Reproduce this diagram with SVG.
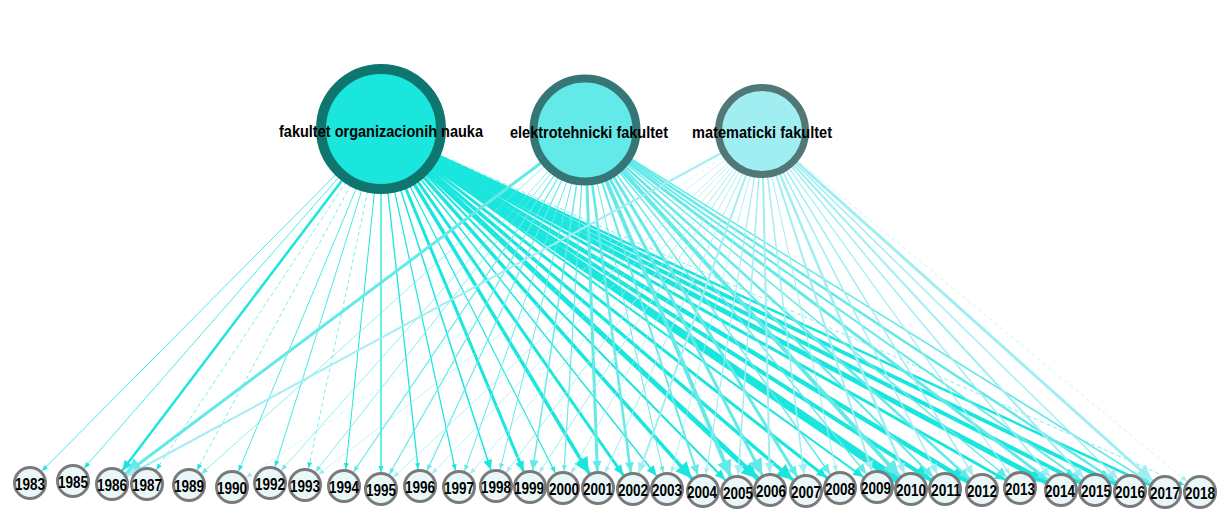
<svg xmlns="http://www.w3.org/2000/svg" width="1228" height="528" viewBox="0 0 1228 528">
<style>
.f{stroke:#1ae6de;fill:none}
.e{stroke:#64e9e9;fill:none}
.m{stroke:#a0eef2;fill:none}
.d{stroke-dasharray:4 3}
.yr circle{fill:#eaf7f9;stroke:#7a7a7a;stroke-width:3}
.yr text{font-family:"Liberation Sans",Arial,sans-serif;font-weight:bold;font-size:17px;text-anchor:middle;fill:#000}
.src text{font-family:"Liberation Sans",Arial,sans-serif;font-weight:bold;font-size:16.5px;text-anchor:middle;fill:#000}
</style>
<defs>
<marker id="f1" markerUnits="userSpaceOnUse" viewBox="-50 -12 50 24" markerWidth="50" markerHeight="24" refX="0" refY="0" orient="auto" overflow="visible"><path d="M-17,0 L-23,-2.5 L-23,2.5 Z" fill="#1ae6de"/></marker>
<marker id="f2" markerUnits="userSpaceOnUse" viewBox="-50 -12 50 24" markerWidth="50" markerHeight="24" refX="0" refY="0" orient="auto" overflow="visible"><path d="M-17,0 L-27,-4.5 L-27,4.5 Z" fill="#1ae6de"/></marker>
<marker id="f3" markerUnits="userSpaceOnUse" viewBox="-50 -12 50 24" markerWidth="50" markerHeight="24" refX="0" refY="0" orient="auto" overflow="visible"><path d="M-17,0 L-33,-7.5 L-33,7.5 Z" fill="#1ae6de"/></marker>
<marker id="e1" markerUnits="userSpaceOnUse" viewBox="-50 -12 50 24" markerWidth="50" markerHeight="24" refX="0" refY="0" orient="auto" overflow="visible"><path d="M-17,0 L-23,-2.5 L-23,2.5 Z" fill="#64e9e9"/></marker>
<marker id="e2" markerUnits="userSpaceOnUse" viewBox="-50 -12 50 24" markerWidth="50" markerHeight="24" refX="0" refY="0" orient="auto" overflow="visible"><path d="M-17,0 L-27,-4.5 L-27,4.5 Z" fill="#64e9e9"/></marker>
<marker id="e3" markerUnits="userSpaceOnUse" viewBox="-50 -12 50 24" markerWidth="50" markerHeight="24" refX="0" refY="0" orient="auto" overflow="visible"><path d="M-17,0 L-33,-7.5 L-33,7.5 Z" fill="#64e9e9"/></marker>
<marker id="m1" markerUnits="userSpaceOnUse" viewBox="-50 -12 50 24" markerWidth="50" markerHeight="24" refX="0" refY="0" orient="auto" overflow="visible"><path d="M-17,0 L-23,-2.5 L-23,2.5 Z" fill="#a0eef2"/></marker>
<marker id="m2" markerUnits="userSpaceOnUse" viewBox="-50 -12 50 24" markerWidth="50" markerHeight="24" refX="0" refY="0" orient="auto" overflow="visible"><path d="M-17,0 L-27,-4.5 L-27,4.5 Z" fill="#a0eef2"/></marker>
<marker id="m3" markerUnits="userSpaceOnUse" viewBox="-50 -12 50 24" markerWidth="50" markerHeight="24" refX="0" refY="0" orient="auto" overflow="visible"><path d="M-17,0 L-33,-7.5 L-33,7.5 Z" fill="#a0eef2"/></marker>
</defs>
<rect width="1228" height="528" fill="#fff"/>
<g id="connectors">
<g id="edges-fon">
<line class="f" x1="381" y1="129" x2="30" y2="483" stroke-width="0.8" marker-end="url(#f1)"/>
<line class="f" x1="381" y1="129" x2="73" y2="481" stroke-width="0.8" marker-end="url(#f1)"/>
<line class="f" x1="381" y1="129" x2="112" y2="484" stroke-width="2.5" marker-end="url(#f2)"/>
<line class="f d" x1="381" y1="129" x2="147" y2="484" stroke-width="0.6" marker-end="url(#f1)"/>
<line class="f d" x1="381" y1="129" x2="189" y2="485" stroke-width="0.6" marker-end="url(#f1)"/>
<line class="f" x1="381" y1="129" x2="232" y2="487" stroke-width="0.8" marker-end="url(#f1)"/>
<line class="f" x1="381" y1="129" x2="270" y2="483" stroke-width="0.8" marker-end="url(#f1)"/>
<line class="f d" x1="381" y1="129" x2="305" y2="485" stroke-width="0.6" marker-end="url(#f1)"/>
<line class="f" x1="381" y1="129" x2="344" y2="486" stroke-width="1" marker-end="url(#f1)"/>
<line class="f" x1="381" y1="129" x2="381" y2="489" stroke-width="1.3" marker-end="url(#f1)"/>
<line class="f" x1="381" y1="129" x2="420" y2="486" stroke-width="1.3" marker-end="url(#f1)"/>
<line class="f" x1="381" y1="129" x2="459" y2="487" stroke-width="1.2" marker-end="url(#f1)"/>
<line class="f" x1="381" y1="129" x2="496" y2="486" stroke-width="1.5" marker-end="url(#f2)"/>
<line class="f" x1="381" y1="129" x2="530" y2="487" stroke-width="3" marker-end="url(#f2)"/>
<line class="f" x1="381" y1="129" x2="563" y2="488" stroke-width="1.2" marker-end="url(#f1)"/>
<line class="f" x1="381" y1="129" x2="598" y2="488" stroke-width="3.5" marker-end="url(#f3)"/>
<line class="f" x1="381" y1="129" x2="633" y2="489" stroke-width="3" marker-end="url(#f2)"/>
<line class="f" x1="381" y1="129" x2="667" y2="489" stroke-width="1.5" marker-end="url(#f2)"/>
<line class="f" x1="381" y1="129" x2="703" y2="491" stroke-width="3.5" marker-end="url(#f3)"/>
<line class="f" x1="381" y1="129" x2="737" y2="492" stroke-width="2" marker-end="url(#f2)"/>
<line class="f" x1="381" y1="129" x2="770" y2="490" stroke-width="5" marker-end="url(#f3)"/>
<line class="f" x1="381" y1="129" x2="806" y2="491" stroke-width="3.5" marker-end="url(#f3)"/>
<line class="f" x1="381" y1="129" x2="840" y2="488" stroke-width="3" marker-end="url(#f2)"/>
<line class="f" x1="381" y1="129" x2="877" y2="487" stroke-width="2" marker-end="url(#f2)"/>
<line class="f" x1="381" y1="129" x2="911" y2="489" stroke-width="8" marker-end="url(#f3)"/>
<line class="f" x1="381" y1="129" x2="945" y2="489" stroke-width="4" marker-end="url(#f3)"/>
<line class="f" x1="381" y1="129" x2="982" y2="490" stroke-width="4.5" marker-end="url(#f3)"/>
<line class="f" x1="381" y1="129" x2="1020" y2="488" stroke-width="3" marker-end="url(#f2)"/>
<line class="f" x1="381" y1="129" x2="1061" y2="490" stroke-width="5" marker-end="url(#f3)"/>
<line class="f" x1="381" y1="129" x2="1095" y2="490" stroke-width="4" marker-end="url(#f3)"/>
<line class="f" x1="381" y1="129" x2="1130" y2="491" stroke-width="4" marker-end="url(#f3)"/>
<line class="f" x1="381" y1="129" x2="1165" y2="492" stroke-width="2.5" marker-end="url(#f2)"/>
<line class="f d" x1="381" y1="129" x2="1200" y2="492" stroke-width="0.6" marker-end="url(#f1)"/>
</g>
<g id="edges-etf">
<line class="e" x1="585" y1="130" x2="112" y2="484" stroke-width="3" marker-end="url(#e3)"/>
<line class="e" x1="585" y1="130" x2="189" y2="485" stroke-width="0.7" marker-end="url(#e1)"/>
<line class="e" x1="585" y1="130" x2="270" y2="483" stroke-width="0.7" marker-end="url(#e1)"/>
<line class="e" x1="585" y1="130" x2="305" y2="485" stroke-width="0.8" marker-end="url(#e1)"/>
<line class="e" x1="585" y1="130" x2="344" y2="486" stroke-width="1.2" marker-end="url(#e1)"/>
<line class="e" x1="585" y1="130" x2="381" y2="489" stroke-width="1.2" marker-end="url(#e1)"/>
<line class="e" x1="585" y1="130" x2="420" y2="486" stroke-width="1.2" marker-end="url(#e1)"/>
<line class="e" x1="585" y1="130" x2="459" y2="487" stroke-width="1" marker-end="url(#e1)"/>
<line class="e" x1="585" y1="130" x2="496" y2="486" stroke-width="1" marker-end="url(#e1)"/>
<line class="e" x1="585" y1="130" x2="530" y2="487" stroke-width="1.5" marker-end="url(#e2)"/>
<line class="e" x1="585" y1="130" x2="563" y2="488" stroke-width="1.2" marker-end="url(#e1)"/>
<line class="e" x1="585" y1="130" x2="598" y2="488" stroke-width="3" marker-end="url(#e2)"/>
<line class="e" x1="585" y1="130" x2="633" y2="489" stroke-width="2.5" marker-end="url(#e2)"/>
<line class="e" x1="585" y1="130" x2="667" y2="489" stroke-width="1" marker-end="url(#e1)"/>
<line class="e" x1="585" y1="130" x2="703" y2="491" stroke-width="2" marker-end="url(#e2)"/>
<line class="e" x1="585" y1="130" x2="737" y2="492" stroke-width="4" marker-end="url(#e3)"/>
<line class="e" x1="585" y1="130" x2="770" y2="490" stroke-width="3" marker-end="url(#e3)"/>
<line class="e" x1="585" y1="130" x2="806" y2="491" stroke-width="3" marker-end="url(#e2)"/>
<line class="e" x1="585" y1="130" x2="840" y2="488" stroke-width="1.5" marker-end="url(#e2)"/>
<line class="e" x1="585" y1="130" x2="877" y2="487" stroke-width="1.5" marker-end="url(#e2)"/>
<line class="e" x1="585" y1="130" x2="911" y2="489" stroke-width="4" marker-end="url(#e3)"/>
<line class="e" x1="585" y1="130" x2="945" y2="489" stroke-width="2" marker-end="url(#e2)"/>
<line class="e" x1="585" y1="130" x2="982" y2="490" stroke-width="2.5" marker-end="url(#e2)"/>
<line class="e" x1="585" y1="130" x2="1020" y2="488" stroke-width="1.5" marker-end="url(#e2)"/>
<line class="e" x1="585" y1="130" x2="1061" y2="490" stroke-width="3" marker-end="url(#e2)"/>
<line class="e" x1="585" y1="130" x2="1095" y2="490" stroke-width="2" marker-end="url(#e2)"/>
<line class="e" x1="585" y1="130" x2="1130" y2="491" stroke-width="2.5" marker-end="url(#e2)"/>
<line class="e" x1="585" y1="130" x2="1165" y2="492" stroke-width="1.5" marker-end="url(#e2)"/>
</g>
<g id="edges-matf">
<line class="m" x1="762" y1="131" x2="112" y2="484" stroke-width="2" marker-end="url(#m2)"/>
<line class="m d" x1="762" y1="131" x2="232" y2="487" stroke-width="0.5" marker-end="url(#m1)"/>
<line class="m" x1="762" y1="131" x2="305" y2="485" stroke-width="0.6" marker-end="url(#m1)"/>
<line class="m" x1="762" y1="131" x2="381" y2="489" stroke-width="0.8" marker-end="url(#m1)"/>
<line class="m" x1="762" y1="131" x2="420" y2="486" stroke-width="0.7" marker-end="url(#m1)"/>
<line class="m" x1="762" y1="131" x2="459" y2="487" stroke-width="0.7" marker-end="url(#m1)"/>
<line class="m" x1="762" y1="131" x2="496" y2="486" stroke-width="1" marker-end="url(#m1)"/>
<line class="m" x1="762" y1="131" x2="530" y2="487" stroke-width="1" marker-end="url(#m1)"/>
<line class="m" x1="762" y1="131" x2="563" y2="488" stroke-width="0.8" marker-end="url(#m1)"/>
<line class="m" x1="762" y1="131" x2="598" y2="488" stroke-width="1" marker-end="url(#m1)"/>
<line class="m" x1="762" y1="131" x2="633" y2="489" stroke-width="2" marker-end="url(#m2)"/>
<line class="m" x1="762" y1="131" x2="667" y2="489" stroke-width="0.8" marker-end="url(#m1)"/>
<line class="m" x1="762" y1="131" x2="703" y2="491" stroke-width="1.2" marker-end="url(#m1)"/>
<line class="m" x1="762" y1="131" x2="737" y2="492" stroke-width="1.5" marker-end="url(#m2)"/>
<line class="m" x1="762" y1="131" x2="770" y2="490" stroke-width="2" marker-end="url(#m2)"/>
<line class="m" x1="762" y1="131" x2="806" y2="491" stroke-width="1.5" marker-end="url(#m2)"/>
<line class="m" x1="762" y1="131" x2="840" y2="488" stroke-width="1" marker-end="url(#m1)"/>
<line class="m" x1="762" y1="131" x2="877" y2="487" stroke-width="2" marker-end="url(#m2)"/>
<line class="m" x1="762" y1="131" x2="911" y2="489" stroke-width="2.5" marker-end="url(#m2)"/>
<line class="m" x1="762" y1="131" x2="945" y2="489" stroke-width="1.5" marker-end="url(#m2)"/>
<line class="m" x1="762" y1="131" x2="982" y2="490" stroke-width="1.5" marker-end="url(#m2)"/>
<line class="m" x1="762" y1="131" x2="1020" y2="488" stroke-width="1.2" marker-end="url(#m1)"/>
<line class="m" x1="762" y1="131" x2="1061" y2="490" stroke-width="1.5" marker-end="url(#m2)"/>
<line class="m" x1="762" y1="131" x2="1095" y2="490" stroke-width="2" marker-end="url(#m2)"/>
<line class="m" x1="762" y1="131" x2="1130" y2="491" stroke-width="1.5" marker-end="url(#m2)"/>
<line class="m" x1="762" y1="131" x2="1165" y2="492" stroke-width="3" marker-end="url(#m3)"/>
<line class="m d" x1="762" y1="131" x2="1200" y2="492" stroke-width="0.6" marker-end="url(#m1)"/>
</g>
</g>
<g class="src">
<g id="node-fon"><circle cx="381" cy="129" r="60" fill="#1ae6de" stroke="#0e756f" stroke-width="10"/><text x="381" y="137" textLength="204" lengthAdjust="spacingAndGlyphs">fakultet organizacionih nauka</text></g>
<g id="node-etf"><circle cx="585" cy="130" r="51.5" fill="#64e9e9" stroke="#367676" stroke-width="8"/><text x="589" y="138" textLength="158" lengthAdjust="spacingAndGlyphs">elektrotehnicki fakultet</text></g>
<g id="node-matf"><circle cx="762" cy="131" r="43.5" fill="#a0eef2" stroke="#517777" stroke-width="7"/><text x="762" y="138" textLength="140" lengthAdjust="spacingAndGlyphs">matematicki fakultet</text></g>
</g>
<g class="yr">
<g id="y1983"><circle cx="30" cy="483" r="15.5"/><text x="30" y="490" textLength="30" lengthAdjust="spacingAndGlyphs">1983</text></g>
<g id="y1985"><circle cx="73" cy="481" r="15.5"/><text x="73" y="488" textLength="30" lengthAdjust="spacingAndGlyphs">1985</text></g>
<g id="y1986"><circle cx="112" cy="484" r="15.5"/><text x="112" y="491" textLength="30" lengthAdjust="spacingAndGlyphs">1986</text></g>
<g id="y1987"><circle cx="147" cy="484" r="15.5"/><text x="147" y="491" textLength="30" lengthAdjust="spacingAndGlyphs">1987</text></g>
<g id="y1989"><circle cx="189" cy="485" r="15.5"/><text x="189" y="492" textLength="30" lengthAdjust="spacingAndGlyphs">1989</text></g>
<g id="y1990"><circle cx="232" cy="487" r="15.5"/><text x="232" y="494" textLength="30" lengthAdjust="spacingAndGlyphs">1990</text></g>
<g id="y1992"><circle cx="270" cy="483" r="15.5"/><text x="270" y="490" textLength="30" lengthAdjust="spacingAndGlyphs">1992</text></g>
<g id="y1993"><circle cx="305" cy="485" r="15.5"/><text x="305" y="492" textLength="30" lengthAdjust="spacingAndGlyphs">1993</text></g>
<g id="y1994"><circle cx="344" cy="486" r="15.5"/><text x="344" y="493" textLength="30" lengthAdjust="spacingAndGlyphs">1994</text></g>
<g id="y1995"><circle cx="381" cy="489" r="15.5"/><text x="381" y="496" textLength="30" lengthAdjust="spacingAndGlyphs">1995</text></g>
<g id="y1996"><circle cx="420" cy="486" r="15.5"/><text x="420" y="493" textLength="30" lengthAdjust="spacingAndGlyphs">1996</text></g>
<g id="y1997"><circle cx="459" cy="487" r="15.5"/><text x="459" y="494" textLength="30" lengthAdjust="spacingAndGlyphs">1997</text></g>
<g id="y1998"><circle cx="496" cy="486" r="15.5"/><text x="496" y="493" textLength="30" lengthAdjust="spacingAndGlyphs">1998</text></g>
<g id="y1999"><circle cx="530" cy="487" r="15.5"/><text x="529" y="494" textLength="30" lengthAdjust="spacingAndGlyphs">1999</text></g>
<g id="y2000"><circle cx="563" cy="488" r="15.5"/><text x="564" y="495" textLength="30" lengthAdjust="spacingAndGlyphs">2000</text></g>
<g id="y2001"><circle cx="598" cy="488" r="15.5"/><text x="598" y="495" textLength="30" lengthAdjust="spacingAndGlyphs">2001</text></g>
<g id="y2002"><circle cx="633" cy="489" r="15.5"/><text x="633" y="496" textLength="30" lengthAdjust="spacingAndGlyphs">2002</text></g>
<g id="y2003"><circle cx="667" cy="489" r="15.5"/><text x="667" y="496" textLength="30" lengthAdjust="spacingAndGlyphs">2003</text></g>
<g id="y2004"><circle cx="703" cy="491" r="15.5"/><text x="702" y="498" textLength="30" lengthAdjust="spacingAndGlyphs">2004</text></g>
<g id="y2005"><circle cx="737" cy="492" r="15.5"/><text x="738" y="499" textLength="30" lengthAdjust="spacingAndGlyphs">2005</text></g>
<g id="y2006"><circle cx="770" cy="490" r="15.5"/><text x="771" y="497" textLength="30" lengthAdjust="spacingAndGlyphs">2006</text></g>
<g id="y2007"><circle cx="806" cy="491" r="15.5"/><text x="806" y="498" textLength="30" lengthAdjust="spacingAndGlyphs">2007</text></g>
<g id="y2008"><circle cx="840" cy="488" r="15.5"/><text x="840" y="495" textLength="30" lengthAdjust="spacingAndGlyphs">2008</text></g>
<g id="y2009"><circle cx="877" cy="487" r="15.5"/><text x="876" y="494" textLength="30" lengthAdjust="spacingAndGlyphs">2009</text></g>
<g id="y2010"><circle cx="911" cy="489" r="15.5"/><text x="911" y="496" textLength="30" lengthAdjust="spacingAndGlyphs">2010</text></g>
<g id="y2011"><circle cx="945" cy="489" r="15.5"/><text x="946" y="496" textLength="30" lengthAdjust="spacingAndGlyphs">2011</text></g>
<g id="y2012"><circle cx="982" cy="490" r="15.5"/><text x="982" y="497" textLength="30" lengthAdjust="spacingAndGlyphs">2012</text></g>
<g id="y2013"><circle cx="1020" cy="488" r="15.5"/><text x="1020" y="495" textLength="30" lengthAdjust="spacingAndGlyphs">2013</text></g>
<g id="y2014"><circle cx="1061" cy="490" r="15.5"/><text x="1060" y="497" textLength="30" lengthAdjust="spacingAndGlyphs">2014</text></g>
<g id="y2015"><circle cx="1095" cy="490" r="15.5"/><text x="1096" y="497" textLength="30" lengthAdjust="spacingAndGlyphs">2015</text></g>
<g id="y2016"><circle cx="1130" cy="491" r="15.5"/><text x="1130" y="498" textLength="30" lengthAdjust="spacingAndGlyphs">2016</text></g>
<g id="y2017"><circle cx="1165" cy="492" r="15.5"/><text x="1165" y="499" textLength="30" lengthAdjust="spacingAndGlyphs">2017</text></g>
<g id="y2018"><circle cx="1200" cy="492" r="15.5"/><text x="1200" y="499" textLength="30" lengthAdjust="spacingAndGlyphs">2018</text></g>
</g>
</svg>
